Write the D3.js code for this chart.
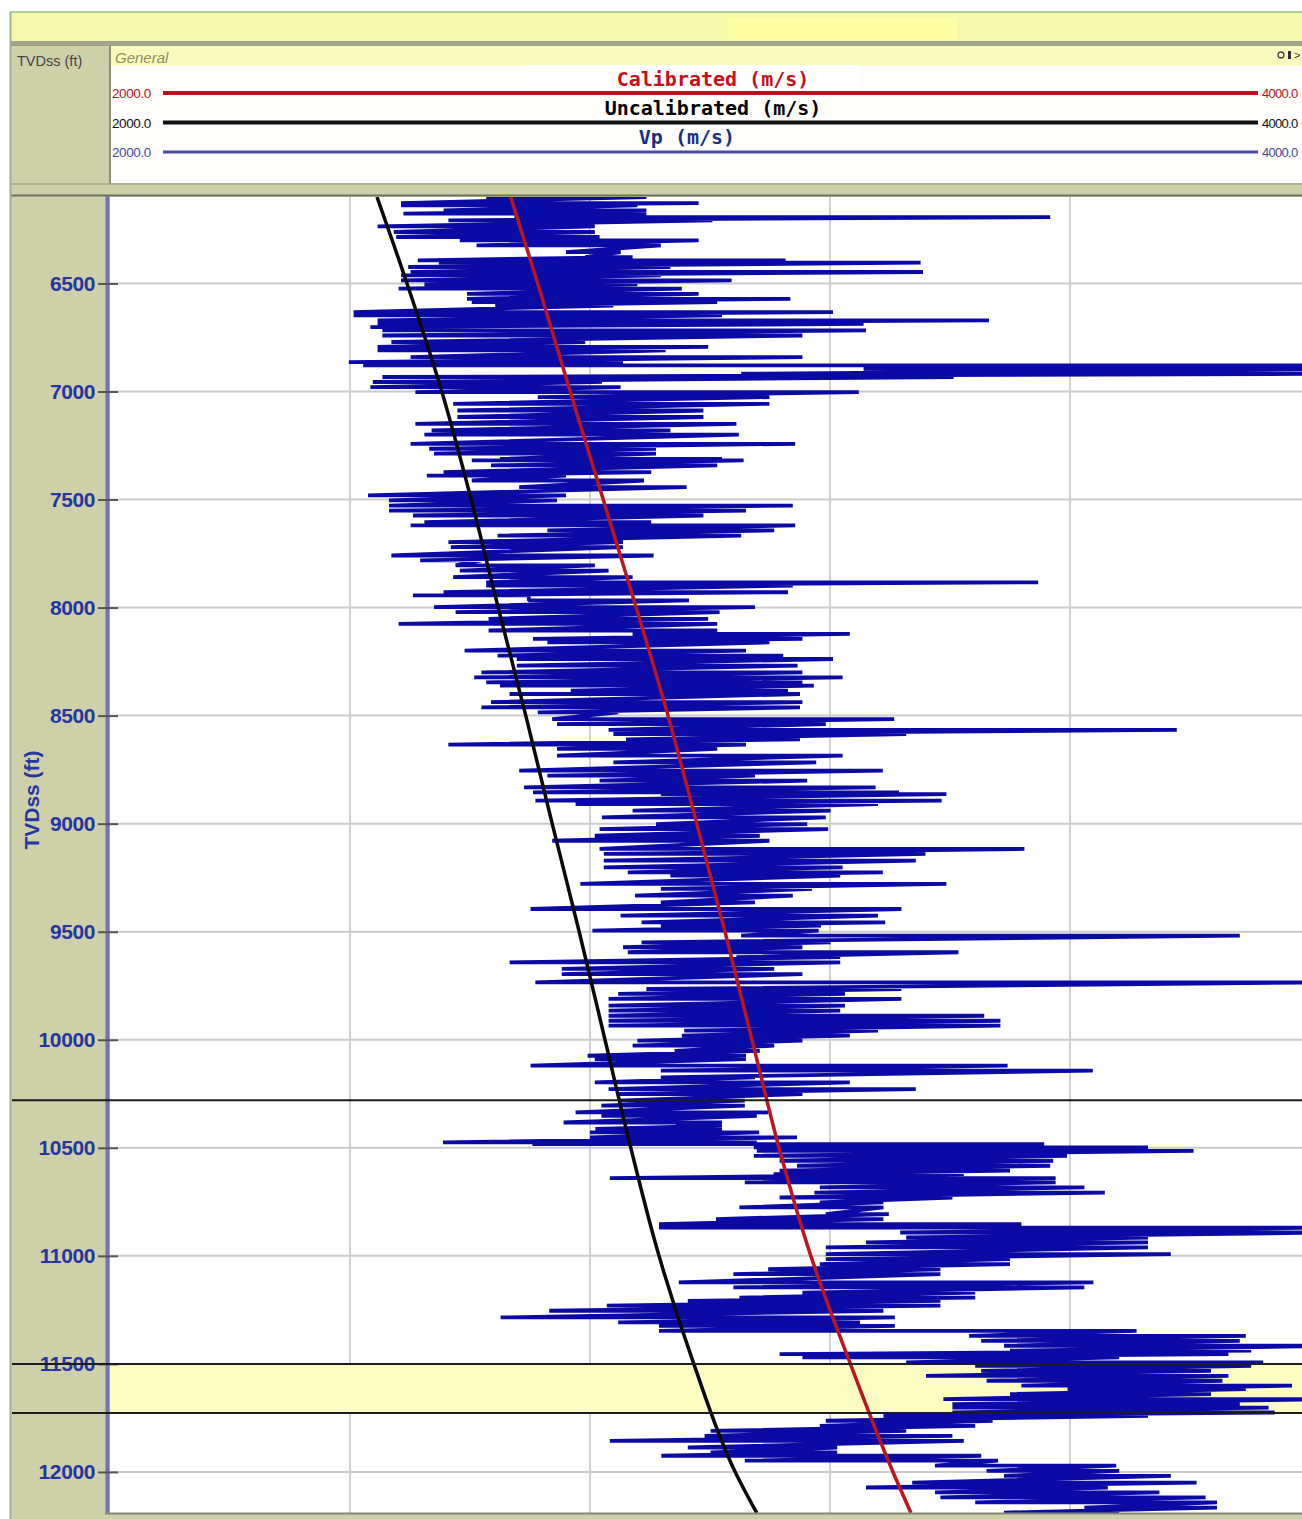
<!DOCTYPE html>
<html>
<head>
<meta charset="utf-8">
<script src="https://d3js.org/d3.v7.min.js"></script>
<style>
  body { margin: 0; background: #fff; }
  svg { display: block; }
</style>
</head>
<body>
<svg id="chart"></svg>
<script>
// Track scale (m/s) and depth ticks (ft)
const velocityRange = [2000, 4000];
const velocityGrid = [2400, 2800, 3200, 3600];
const depthRange = [6100, 12190];
const depthTicks = [6500, 7000, 7500, 8000, 8500, 9000, 9500, 10000, 10500, 11000, 11500, 12000];

// Formation markers (ft) and the shaded interval
const markerDepths = [10280, 11500, 11727];
const zone = [11500, 11727];

// Curve legend
const curveNames = ["Calibrated (m/s)", "Uncalibrated (m/s)", "Vp (m/s)"];
const curveColors = ["#b8141e", "#111111", "#4a4aa0"];

// Velocity trends, read every 500 ft
const trendDepth = [6100, 6500, 7000, 7500, 8000, 8500, 9000, 9500, 10000, 10500, 11000, 11500, 12000, 12190];
const uncalibrated = [2445, 2495, 2553, 2602, 2647, 2693, 2737, 2782, 2825, 2868, 2915, 2973, 3042, 3078];
const calibrated = [2668, 2713, 2767, 2822, 2877, 2930, 2978, 3025, 3070, 3115, 3168, 3234, 3305, 3335];

// Vp log: left and right swing of the trace at each read depth
const vpDepth = [
  6100, 6128, 6139, 6162, 6177, 6193, 6208, 6236, 6262, 6285,
  6301, 6324, 6355, 6378, 6393, 6404, 6424, 6447, 6463, 6486,
  6504, 6524, 6548, 6571, 6586, 6602, 6633, 6648, 6671, 6687,
  6702, 6717, 6741, 6771, 6794, 6810, 6841, 6864, 6879, 6895,
  6918, 6933, 6956, 6980, 7003, 7026, 7057, 7088, 7118, 7150,
  7180, 7200, 7242, 7265, 7288, 7312, 7319, 7342, 7373, 7389,
  7412, 7443, 7481, 7504, 7528, 7551, 7574, 7605, 7620, 7643,
  7667, 7697, 7720, 7759, 7782, 7805, 7829, 7859, 7883, 7898,
  7929, 7944, 7967, 7998, 8021, 8052, 8075, 8106, 8122, 8145,
  8161, 8199, 8222, 8238, 8269, 8300, 8323, 8346, 8361, 8384,
  8400, 8438, 8462, 8485, 8516, 8539, 8566, 8585, 8610, 8634,
  8654, 8685, 8716, 8755, 8778, 8801, 8832, 8855, 8863, 8893,
  8909, 8940, 8971, 9002, 9025, 9056, 9079, 9117, 9140, 9171,
  9202, 9225, 9240, 9279, 9302, 9333, 9364, 9395, 9426, 9457,
  9472, 9495, 9518, 9549, 9572, 9595, 9618, 9642, 9672, 9696,
  9734, 9765, 9788, 9811, 9842, 9865, 9889, 9912, 9935, 9958,
  9981, 10004, 10027, 10051, 10074, 10089, 10120, 10143, 10174, 10197,
  10228, 10251, 10282, 10305, 10336, 10352, 10383, 10398, 10413, 10429,
  10452, 10475, 10483, 10498, 10514, 10537, 10560, 10583, 10606, 10622,
  10640, 10660, 10683, 10707, 10730, 10753, 10776, 10807, 10830, 10853,
  10869, 10892, 10915, 10938, 10961, 10992, 11015, 11038, 11062, 11085,
  11123, 11146, 11170, 11193, 11208, 11230, 11254, 11285, 11308, 11324,
  11347, 11370, 11393, 11416, 11439, 11455, 11470, 11493, 11509, 11532,
  11555, 11578, 11601, 11617, 11640, 11663, 11686, 11702, 11725, 11740,
  11763, 11787, 11810, 11833, 11856, 11887, 11910, 11925, 11948, 11971,
  11995, 12018, 12049, 12072, 12095, 12118, 12141, 12165, 12188
];
const vpLow = [
  2627, 2485, 2485, 2556, 2489, 2674, 2564, 2446, 2473, 2477,
  2583, 2611, 2760, 2792, 2513, 2548, 2497, 2501, 2485, 2485,
  2524, 2481, 2595, 2595, 2603, 2642, 2406, 2406, 2446, 2446,
  2434, 2454, 2454, 2469, 2446, 2446, 2501, 2398, 2422, 3256,
  3052, 2454, 2438, 2434, 2509, 2713, 2572, 2579, 2579, 2509,
  2536, 2524, 2501, 2532, 2540, 2650, 2603, 2635, 2556, 2528,
  2603, 2682, 2430, 2465, 2465, 2465, 2505, 2524, 2501, 2729,
  2646, 2564, 2568, 2469, 2517, 2576, 2583, 2572, 2627, 2627,
  2556, 2505, 2698, 2540, 2576, 2631, 2481, 2631, 2871, 2705,
  2729, 2591, 2646, 2678, 2678, 2619, 2607, 2627, 2650, 2768,
  2666, 2635, 2619, 2713, 2737, 2745, 2831, 2839, 2860, 2564,
  2745, 2745, 2839, 2682, 2729, 2816, 2690, 2705, 2918, 2709,
  2776, 2871, 2820, 2910, 2816, 2808, 2737, 2816, 2823, 2823,
  2823, 2863, 2934, 2784, 2918, 2875, 2918, 2701, 2851, 2886,
  2918, 2804, 3052, 2886, 2855, 2863, 3044, 2666, 2753, 2753,
  2709, 2894, 2847, 2831, 2831, 2831, 2831, 2831, 2831, 2957,
  2953, 2879, 2871, 2941, 2796, 2808, 2701, 2918, 2918, 2808,
  2831, 2847, 2847, 2819, 2776, 2819, 2756, 2943, 2809, 2800,
  2800, 2555, 2704, 3073, 3078, 3073, 3116, 3145, 3116, 3106,
  2833, 3058, 3183, 3174, 3116, 3183, 3049, 3193, 3010, 2915,
  2915, 3317, 3327, 3260, 3193, 3193, 3193, 3183, 3097, 3039,
  2948, 3039, 3154, 3049, 2963, 2828, 2732, 2651, 2847, 2915,
  2915, 3432, 3452, 3490, 3500, 3116, 3154, 3327, 3442, 3452,
  3360, 3461, 3519, 3596, 3500, 3389, 3404, 3404, 3404, 3289,
  3193, 3183, 3001, 2991, 2833, 2963, 3001, 2919, 3058, 3375,
  3461, 3490, 3337, 3260, 3375, 3384, 3442, 3624, 3490
];
const vpHigh = [
  2894, 2981, 2879, 2894, 2894, 3567, 3004, 2808, 2808, 2816,
  2981, 2918, 2851, 2871, 3126, 3351, 2934, 3355, 2918, 3036,
  2879, 2953, 2981, 3134, 3012, 2839, 3205, 3020, 3465, 3256,
  2564, 3260, 3154, 2792, 2997, 2926, 3154, 2855, 4080, 4080,
  4050, 3406, 2820, 2851, 3248, 3099, 3099, 2989, 2989, 3044,
  2934, 3048, 3142, 2910, 2910, 3020, 3056, 3012, 2902, 2760,
  2890, 2961, 2760, 2745, 3138, 3060, 2989, 2902, 3142, 3107,
  3052, 2855, 2855, 2906, 2619, 2808, 2831, 2871, 3547, 3138,
  3130, 2698, 2965, 3075, 3016, 2997, 3012, 3012, 3233, 3154,
  3099, 3060, 3122, 3205, 3146, 3154, 3221, 3154, 3173, 3130,
  3150, 3154, 3150, 2847, 3307, 3193, 3778, 3327, 3150, 3060,
  3012, 3221, 3177, 3288, 3075, 3162, 3276, 3315, 3394, 3386,
  3280, 3201, 3193, 3162, 3197, 3083, 3099, 3524, 3359, 3343,
  3221, 3288, 3217, 3394, 3170, 3138, 3075, 3319, 3280, 3292,
  3185, 3181, 3883, 3201, 3154, 3414, 3217, 3217, 3107, 3154,
  4050, 3319, 3225, 3319, 3225, 3217, 3457, 3484, 3484, 3280,
  3233, 3154, 3107, 3083, 3060, 3060, 3496, 3638, 3075, 3233,
  3343, 3154, 3058, 3058, 3097, 3078, 3020, 3020, 3020, 3082,
  3145, 3078, 3557, 3730, 3806, 3595, 3572, 3567, 3500, 3423,
  3576, 3576, 3624, 3658, 3404, 3289, 3289, 3298, 3289, 3519,
  4050, 4050, 3730, 3730, 3730, 3768, 3500, 3500, 3384, 3384,
  3639, 3624, 3442, 3442, 3384, 3384, 3289, 3308, 3250, 3308,
  3711, 3893, 3883, 4050, 3902, 3864, 3682, 3922, 3902, 3835,
  3864, 3854, 3970, 3893, 3835, 4050, 3883, 3931, 3941, 3730,
  3471, 3442, 3327, 3404, 3423, 3212, 3212, 3452, 3480, 3677,
  3682, 3768, 3811, 3663, 3749, 3826, 3845, 3845, 3682
];

const W = 1302, H = 1519;
const khaki = "#ced0a9";
const plot = { left: 110, right: 1310, top: 197, bottom: 1513 };

const svg = d3.select("#chart").attr("width", W).attr("height", H);

const x = d3.scaleLinear().domain(velocityRange).range([plot.left, plot.right]);
const y = d3.scaleLinear().domain(depthRange).range([plot.top, plot.bottom]);

// Frame
svg.append("rect").attr("width", W).attr("height", H).attr("fill", "#fff");
svg.append("rect").attr("x", 10).attr("y", 44).attr("width", W - 10).attr("height", H - 44).attr("fill", khaki);
svg.append("rect").attr("x", 10).attr("y", 12).attr("width", W - 10).attr("height", 32).attr("fill", "#f8f8ad");
svg.append("rect").attr("x", 728).attr("y", 17).attr("width", 229).attr("height", 23).attr("fill", "#fefea4");
svg.append("line").attr("x1", 10).attr("x2", W).attr("y1", 12).attr("y2", 12)
  .attr("stroke", "#a9d496").attr("stroke-width", 2);
svg.append("rect").attr("x", 10).attr("y", 41).attr("width", W - 10).attr("height", 5).attr("fill", "#a2a48b");

// Header
svg.append("rect").attr("x", 111).attr("y", 46).attr("width", W - 111).attr("height", 137).attr("fill", "#fdfdfb");
svg.append("rect").attr("x", 111).attr("y", 46).attr("width", W - 111).attr("height", 20).attr("fill", "#fbfbc0");
svg.append("line").attr("x1", 110).attr("x2", 110).attr("y1", 46).attr("y2", 184)
  .attr("stroke", "#8e907a").attr("stroke-width", 2);
svg.append("line").attr("x1", 10).attr("x2", W).attr("y1", 184).attr("y2", 184)
  .attr("stroke", "#a3a58e").attr("stroke-width", 1.5);
svg.append("line").attr("x1", 10).attr("x2", W).attr("y1", 195.5).attr("y2", 195.5)
  .attr("stroke", "#6f715f").attr("stroke-width", 2);

svg.append("text").attr("x", 17).attr("y", 66).text("TVDss (ft)")
  .style("font-family", "'Liberation Sans', Arial, sans-serif").style("font-size", "14.5px").style("fill", "#444");
svg.append("text").attr("x", 115).attr("y", 63).text("General")
  .style("font-family", "'Liberation Sans', Arial, sans-serif").style("font-size", "15px")
  .style("font-style", "italic").style("fill", "#8d8d5e");

// Little track icons, top right
svg.append("circle").attr("cx", 1281).attr("cy", 55).attr("r", 3)
  .attr("fill", "none").attr("stroke", "#444").attr("stroke-width", 1.3);
svg.append("rect").attr("x", 1288).attr("y", 51).attr("width", 3).attr("height", 8).attr("fill", "#333");
svg.append("text").attr("x", 1294).attr("y", 59).text(">")
  .style("font-family", "'Liberation Sans', Arial, sans-serif").style("font-size", "11px").style("fill", "#333");

const fmt = d3.format(".1f");
curveNames.forEach((name, i) => {
  const ly = 93 + i * 29.5;
  svg.append("line").attr("x1", 163).attr("x2", 1258).attr("y1", ly).attr("y2", ly)
    .attr("stroke", curveColors[i]).attr("stroke-width", i === 2 ? 3 : 4);
  svg.append("text").attr("x", 112).attr("y", ly + 5).text(fmt(velocityRange[0]))
    .style("font-family", "'Liberation Sans', Arial, sans-serif").style("font-size", "13.5px")
    .style("letter-spacing", "-0.4px").style("fill", curveColors[i]);
  svg.append("text").attr("x", 1262).attr("y", ly + 5).text(fmt(velocityRange[1]))
    .style("font-family", "'Liberation Sans', Arial, sans-serif").style("font-size", "13px")
    .style("letter-spacing", "-0.7px").style("fill", curveColors[i]);
});

svg.append("rect").attr("x", 527).attr("y", 65).attr("width", 333).attr("height", 26).attr("fill", "#fff");
const titleX = [713, 713, 687];
const titleColors = ["#c4101a", "#000000", "#18307e"];
curveNames.forEach((name, i) => {
  svg.append("text").attr("x", titleX[i]).attr("y", 86 + i * 29).text(name)
    .attr("text-anchor", "middle")
    .style("font-family", "'DejaVu Sans Mono', monospace").style("font-weight", "bold")
    .style("font-size", "20px").style("fill", titleColors[i]);
});

// Plot area
svg.append("rect").attr("x", plot.left).attr("y", plot.top)
  .attr("width", plot.right - plot.left).attr("height", plot.bottom - plot.top).attr("fill", "#fff");

svg.append("defs").append("clipPath").attr("id", "plotClip")
  .append("rect").attr("x", plot.left).attr("y", plot.top)
  .attr("width", plot.right - plot.left).attr("height", plot.bottom - plot.top);

const g = svg.append("g").attr("clip-path", "url(#plotClip)");

g.selectAll(".vgrid").data(velocityGrid).join("line")
  .attr("x1", d => x(d)).attr("x2", d => x(d))
  .attr("y1", plot.top).attr("y2", plot.bottom)
  .attr("stroke", "#c2c2c2").attr("stroke-width", 1.5);

g.selectAll(".hgrid").data(depthTicks).join("line")
  .attr("x1", plot.left).attr("x2", plot.right)
  .attr("y1", d => y(d)).attr("y2", d => y(d))
  .attr("stroke", "#cbcbcb").attr("stroke-width", 2);

g.append("rect").attr("x", plot.left).attr("y", y(zone[0]))
  .attr("width", plot.right - plot.left).attr("height", y(zone[1]) - y(zone[0]))
  .attr("fill", "#fdfdc3");

// Vp trace: swing left to right at each depth
const vpPoints = vpDepth.flatMap((d, i) => [[vpLow[i], d], [vpHigh[i], d]]);
g.append("path")
  .datum(vpPoints)
  .attr("fill", "none")
  .attr("stroke", "#0a0aa4")
  .attr("stroke-width", 3.8)
  .attr("stroke-linejoin", "bevel")
  .attr("d", d3.line().x(p => x(p[0])).y(p => y(p[1])));

const trendLine = d3.line().curve(d3.curveMonotoneY);
g.append("path")
  .datum(trendDepth.map((d, i) => [x(uncalibrated[i]), y(d)]))
  .attr("fill", "none").attr("stroke", "#0a0a0a").attr("stroke-width", 3.5)
  .attr("d", trendLine);
g.append("path")
  .datum(trendDepth.map((d, i) => [x(calibrated[i]), y(d)]))
  .attr("fill", "none").attr("stroke", "#bb1620").attr("stroke-width", 3.5)
  .attr("d", trendLine);

// Track borders
svg.append("line").attr("x1", 107.5).attr("x2", 107.5).attr("y1", 196).attr("y2", plot.bottom + 1)
  .attr("stroke", "#7272ad").attr("stroke-width", 4);
svg.append("line").attr("x1", 105).attr("x2", W).attr("y1", plot.bottom + 0.5).attr("y2", plot.bottom + 0.5)
  .attr("stroke", "#85877a").attr("stroke-width", 2);
svg.append("line").attr("x1", 10.5).attr("x2", 10.5).attr("y1", 12).attr("y2", H)
  .attr("stroke", "#9fb48b").attr("stroke-width", 2);

// Depth axis
const axis = svg.append("g").attr("transform", "translate(118,0)")
  .call(d3.axisLeft(y).tickValues(depthTicks).tickSize(20).tickPadding(3).tickFormat(d3.format("d")));
axis.select(".domain").remove();
axis.selectAll(".tick line").attr("stroke", "#555").attr("stroke-width", 2);
axis.selectAll(".tick text")
  .style("font-family", "'Liberation Sans', Arial, sans-serif")
  .style("font-size", "21px").style("font-weight", "bold")
  .style("letter-spacing", "-0.4px")
  .attr("fill", "#2536a3");

svg.append("text")
  .attr("transform", "translate(39,800) rotate(-90)")
  .attr("text-anchor", "middle")
  .text("TVDss (ft)")
  .style("font-family", "'Liberation Sans', Arial, sans-serif")
  .style("font-size", "21px").style("font-weight", "bold").style("fill", "#2536a3");

// Formation markers across the whole panel
svg.selectAll(".marker").data(markerDepths).join("line")
  .attr("x1", 12).attr("x2", W)
  .attr("y1", d => y(d)).attr("y2", d => y(d))
  .attr("stroke", "#1c1c1c").attr("stroke-width", 2);
</script>
</body>
</html>
